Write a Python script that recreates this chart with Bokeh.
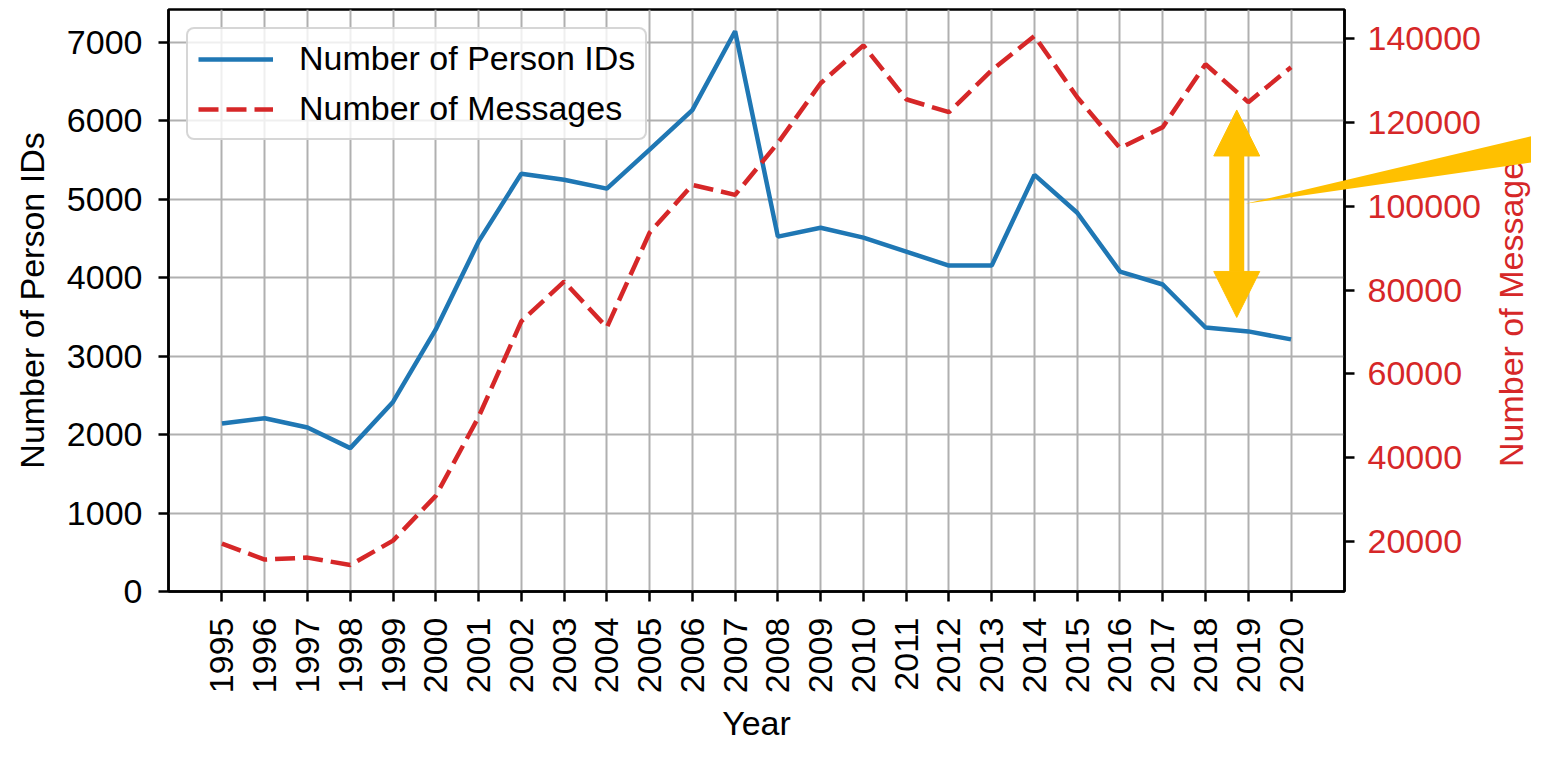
import math
from bokeh.plotting import figure
from bokeh.models import (Range1d, LinearAxis, FixedTicker, Legend, LegendItem,
                          Arrow, NormalHead, BasicTickFormatter)
from bokeh.core.properties import value
from bokeh.embed import file_html
from bokeh.resources import INLINE

# ---------------- data ----------------
years = list(range(1995, 2021))
person_ids = [2142, 2209, 2091, 1828, 2417, 3341, 4460, 5327, 5250, 5136,
              5633, 6138, 7143, 4524, 4638, 4511, 4333, 4155, 4155, 5312,
              4829, 4079, 3914, 3366, 3316, 3214]
messages = [19450, 15650, 16120, 14350, 20170, 30870, 49670, 72510, 82020, 71080,
            93680, 105100, 102720, 115090, 129360, 138400, 125550, 122450, 132450, 140650,
            126020, 113890, 118890, 133900, 124850, 133180]
left_ticks = [0, 1000, 2000, 3000, 4000, 5000, 6000, 7000]
right_ticks = [20000, 40000, 60000, 80000, 100000, 120000, 140000]
right_label = "Number of Messages"

# annotation (yellow arrow + pointer wedge), in left-axis data units
arrow_x = 2018.73
arrow_y0, arrow_y1 = 3494, 6139
wedge_xs = [2018.93, 2027.0, 2027.0]
wedge_ys = [4943, 5982, 5578]
# anchor of the right-hand axis title (outside the frame, left-axis data units)
right_label_x = 2025.14
right_label_y = 3647

BLUE = "#1f77b4"
RED = "#d62728"
YELLOW = "#FFC000"
FONT = "Liberation Sans"
FS = "34px"

p = figure(width=1531, height=745, output_backend="svg", toolbar_location=None,
           x_range=Range1d(1993.75, 2021.25), y_range=Range1d(0, 7420),
           min_border_left=168, min_border_right=187, min_border_top=9,
           min_border_bottom=152)
p.extra_y_ranges = {"msgs": Range1d(8030, 146970)}

p.background_fill_color = "white"
p.border_fill_color = "white"
p.outline_line_color = "black"
p.outline_line_width = 2.5
p.outline_line_alpha = 1.0

l1 = p.line(years, person_ids, line_color=BLUE, line_width=4.5)
l2 = p.line(years, messages, y_range_name="msgs", line_color=RED, line_width=4.5,
            line_dash="20 8")

ax_r = LinearAxis(y_range_name="msgs")
p.add_layout(ax_r, "right")

xax = p.xaxis[0]
yax = p.yaxis[0]
xax.ticker = FixedTicker(ticks=years)
yax.ticker = FixedTicker(ticks=left_ticks)
ax_r.ticker = FixedTicker(ticks=right_ticks)
for ax in (xax, yax, ax_r):
    ax.formatter = BasicTickFormatter(use_scientific=False)
    ax.axis_line_color = "black"
    ax.axis_line_width = 2.5
    ax.major_tick_line_color = "black"
    ax.major_tick_line_width = 2.5
    ax.major_tick_out = 10
    ax.major_tick_in = 0
    ax.minor_tick_line_color = None
    ax.major_label_text_font = FONT
    ax.major_label_text_font_size = FS
    ax.major_label_text_color = "black"
    ax.axis_label_text_font = FONT
    ax.axis_label_text_font_size = FS
    ax.axis_label_text_font_style = "normal"
    ax.axis_label_text_color = "black"

xax.axis_label = "Year"
xax.major_label_orientation = math.pi / 2
xax.major_label_standoff = 16
xax.axis_label_standoff = 8
yax.axis_label = "Number of Person IDs"
yax.major_label_standoff = 16
yax.axis_label_standoff = 13
ax_r.major_label_standoff = 13
ax_r.major_label_text_color = RED

p.xgrid.grid_line_color = "#b0b0b0"
p.ygrid.grid_line_color = "#b0b0b0"
p.xgrid.grid_line_width = 2
p.ygrid.grid_line_width = 2

legend = Legend(items=[LegendItem(label="Number of Person IDs", renderers=[l1]),
                       LegendItem(label="Number of Messages", renderers=[l2])],
                location="top_left", margin=18, padding=10, spacing=11,
                glyph_width=75, glyph_height=38, label_height=38, label_standoff=26,
                label_text_font=FONT, label_text_font_size=FS, label_text_color="black",
                background_fill_color="white", background_fill_alpha=0.8,
                border_line_color="#cccccc", border_line_width=2, border_line_alpha=0.8)
try:
    legend.border_radius = 8
except Exception:
    pass
p.add_layout(legend)

# right-hand axis title, reading bottom-to-top like the reference
p.text(x=[right_label_x], y=[right_label_y], text=[right_label], angle=math.pi / 2,
       text_align="center", text_baseline="middle", text_font=value(FONT),
       text_font_size=FS, text_color=RED, level="overlay")

# pointer wedge, drawn at overlay level so it may pass over the right axis
p.patch(x=wedge_xs, y=wedge_ys, fill_color=YELLOW, fill_alpha=1.0,
        line_color=None, level="overlay")

head_s = NormalHead(size=46, fill_color=YELLOW, line_color=YELLOW, line_width=1)
head_e = NormalHead(size=46, fill_color=YELLOW, line_color=YELLOW, line_width=1)
arrow = Arrow(x_start=arrow_x, y_start=arrow_y0, x_end=arrow_x, y_end=arrow_y1,
              start=head_s, end=head_e, line_color=YELLOW, line_width=15)
p.add_layout(arrow)

open("out.html", "w").write(file_html(p, INLINE))
